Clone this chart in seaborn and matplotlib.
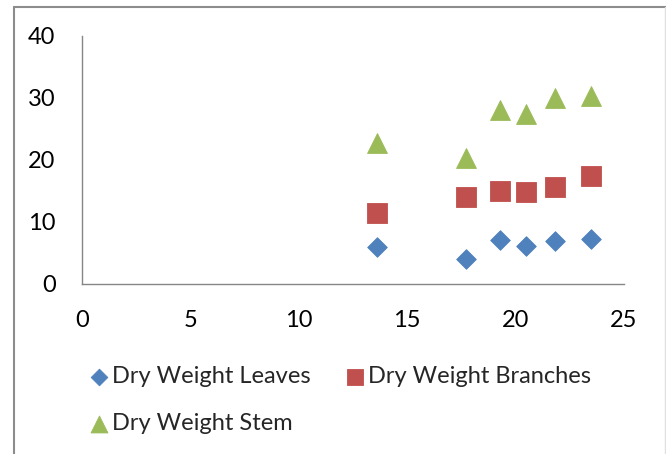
import matplotlib
matplotlib.use("Agg")
import matplotlib.pyplot as plt
from matplotlib.lines import Line2D
import seaborn as sns
import pandas as pd

# Measured dry weights against the x variable
x_values = [13.6, 17.7, 19.3, 20.5, 21.8, 23.5]
leaves = [6.0, 4.0, 7.1, 6.1, 6.9, 7.3]
branches = [11.5, 14.1, 15.0, 14.9, 15.7, 17.5]
stem = [22.8, 20.4, 28.0, 27.4, 30.0, 30.4]

series_names = ["Dry Weight Leaves", "Dry Weight Branches", "Dry Weight Stem"]
x_ticks = [0, 5, 10, 15, 20, 25]
y_ticks = [0, 10, 20, 30, 40]

sns.set_theme(style="white")
plt.rcParams["font.family"] = ["Lato", "DejaVu Sans"]

df = pd.DataFrame({"x": x_values, "leaves": leaves,
                   "branches": branches, "stem": stem})

fig = plt.figure(figsize=(6.66, 4.54), dpi=100)
ax = fig.add_axes([82 / 666, 1 - 284 / 454, (624 - 82) / 666, (284 - 36) / 454])

styles = [
    ("leaves", series_names[0], "#4F81BD", "D", 100),
    ("branches", series_names[1], "#C0504D", "s", 205),
    ("stem", series_names[2], "#9BBB59", "^", 205),
]
for col, name, color, marker, size in styles:
    sns.scatterplot(data=df, x="x", y=col, ax=ax, color=color, marker=marker,
                    s=size, edgecolor=color, linewidth=0.6, label=name,
                    clip_on=False, zorder=3)

ax.set_xlim(0, 25)
ax.set_ylim(0, 40)
ax.set_xticks(x_ticks)
ax.set_yticks(y_ticks)
ax.set_xlabel("")
ax.set_ylabel("")
ax.tick_params(axis="both", length=0, labelsize=17, colors="black")
ax.tick_params(axis="y", pad=19)
ax.tick_params(axis="x", pad=19)

for side in ("top", "right"):
    ax.spines[side].set_visible(False)
for side in ("left", "bottom"):
    ax.spines[side].set_color("#868686")
    ax.spines[side].set_linewidth(1.0)

# Legend laid out row by row: Leaves, Branches / Stem
handles, labels = ax.get_legend_handles_labels()
order = [0, 2, 1]
leg = ax.legend([handles[i] for i in order], [labels[i] for i in order],
                ncol=2, loc="upper left", bbox_to_anchor=(89.5 / 666, 1 - 366 / 454),
                bbox_transform=fig.transFigure, frameon=False, fontsize=17,
                handlelength=0.8, handletextpad=0.15, columnspacing=1.5,
                labelspacing=1.1, markerscale=0.85, borderaxespad=0, borderpad=0)

# Outer chart-area border
border = "#8c8c8c"
fig.add_artist(Line2D([13.5 / 666, 1], [1 - 6.5 / 454, 1 - 6.5 / 454],
                      color=border, lw=1.5, transform=fig.transFigure))
fig.add_artist(Line2D([13.5 / 666, 13.5 / 666], [0, 1 - 6.5 / 454],
                      color=border, lw=1.5, transform=fig.transFigure))
fig.add_artist(Line2D([665 / 666, 665 / 666], [0, 1 - 6.5 / 454],
                      color="#e0e0e0", lw=1.0, transform=fig.transFigure))

fig.savefig("out.png", dpi=100)
